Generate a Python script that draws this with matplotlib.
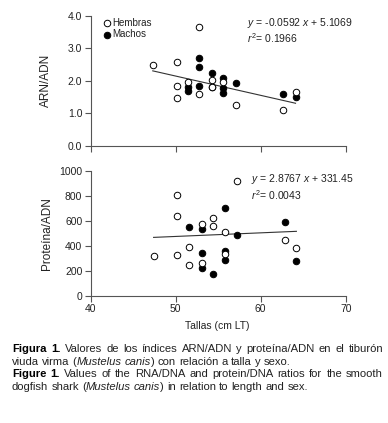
import numpy as np
import matplotlib
matplotlib.use("Agg")
import matplotlib.pyplot as plt

plt.rcParams['font.family'] = ['Liberation Sans', 'DejaVu Sans']
plt.rcParams['mathtext.fontset'] = 'custom'
plt.rcParams['mathtext.rm'] = 'Liberation Sans'
plt.rcParams['mathtext.it'] = 'Liberation Sans:italic'

# ---- data ----
# ARN/ADN panel
arn_h_x = [47.3, 50.1, 50.1, 50.1, 51.5, 52.8, 52.8, 54.3, 54.3, 55.6, 57.1, 62.6, 64.1]
arn_h_y = [2.49, 2.57, 1.85, 1.47, 1.95, 3.66, 1.60, 2.02, 1.80, 1.96, 1.27, 1.09, 1.66]
arn_m_x = [51.5, 51.5, 52.8, 52.8, 52.8, 54.3, 54.3, 55.6, 55.6, 55.6, 57.1, 62.6, 64.1]
arn_m_y = [1.80, 1.70, 2.71, 2.42, 1.83, 2.25, 1.82, 2.10, 1.79, 1.62, 1.93, 1.60, 1.51]
arn_fit = (-0.0592, 5.1069, 0.1966)

# Proteina/ADN panel
prot_h_x = [47.4, 50.2, 50.2, 50.2, 51.6, 51.6, 53.1, 53.1, 54.4, 54.4, 55.8, 55.8, 57.2, 62.9, 64.2]
prot_h_y = [319, 803, 638, 330, 394, 247, 574, 266, 622, 556, 513, 332, 915, 447, 386]
prot_m_x = [51.6, 53.1, 53.1, 53.1, 54.4, 55.8, 55.8, 55.8, 57.2, 62.9, 64.2]
prot_m_y = [553, 537, 343, 223, 176, 702, 362, 287, 484, 593, 277]
prot_fit = (2.8767, 331.45, 0.0043)

xticks = [40, 50, 60, 70]
arn_yticks = [0, 1, 2, 3, 4]
prot_yticks = [0, 200, 400, 600, 800, 1000]

W, H = 388, 423
fig = plt.figure(figsize=(W / 100, H / 100), dpi=100)

spine_c = '#555555'
txt_c = '#222222'

def style_axes(ax):
    for s in ['top', 'right']:
        ax.spines[s].set_visible(False)
    for s in ['left', 'bottom']:
        ax.spines[s].set_color(spine_c)
        ax.spines[s].set_linewidth(0.8)
    ax.tick_params(direction='out', length=4, width=0.8, color=spine_c,
                   labelsize=7.5, labelcolor=txt_c, pad=2)
    ax.set_xlim(40, 70)
    ax.set_xticks(xticks)

def draw_points(ax, hx, hy, mx, my, fit):
    ax.scatter(mx, my, s=22, facecolor='black', edgecolor='black', linewidths=0.7,
               label='Machos', zorder=3, clip_on=False)
    ax.scatter(hx, hy, s=22, facecolor='white', edgecolor='black', linewidths=0.7,
               label='Hembras', zorder=3, clip_on=False)
    xs = np.array([min(hx + mx), max(hx + mx)])
    ax.plot(xs, fit[0] * xs + fit[1], color='#333333', lw=0.8, zorder=2)

# top panel
ax1 = fig.add_axes([90.7 / W, 1 - 146 / H, 255 / W, 130.3 / H])
style_axes(ax1)
draw_points(ax1, arn_h_x, arn_h_y, arn_m_x, arn_m_y, arn_fit)
ax1.set_ylim(0, 4)
ax1.set_yticks(arn_yticks)
ax1.set_yticklabels(['%.1f' % v for v in arn_yticks])
ax1.set_xticklabels([])
ax1.set_ylabel('ARN/ADN', fontsize=8.5, color=txt_c)
ax1.yaxis.set_label_coords(-0.150, 0.5)
h, l = ax1.get_legend_handles_labels()
ax1.legend(h[::-1], l[::-1], loc='upper left', bbox_to_anchor=(0.025, 1.02),
           frameon=False, fontsize=7, handletextpad=0.05, borderpad=0,
           labelspacing=0.15, handlelength=1.0, labelcolor=txt_c)
ax1.text(246.7 / W, 1 - 22.7 / H, r'$y$ = -0.0592 $x$ + 5.1069', transform=fig.transFigure,
         fontsize=7.5, color=txt_c, va='center', ha='left')
ax1.text(246.7 / W, 1 - 38 / H, r'$r^2$= 0.1966', transform=fig.transFigure,
         fontsize=7.5, color=txt_c, va='center', ha='left')

# bottom panel
ax2 = fig.add_axes([90.7 / W, 1 - 296 / H, 255 / W, 125.3 / H])
style_axes(ax2)
draw_points(ax2, prot_h_x, prot_h_y, prot_m_x, prot_m_y, prot_fit)
ax2.set_ylim(0, 1000)
ax2.set_yticks(prot_yticks)
ax2.set_ylabel('Proteína/ADN', fontsize=8.5, color=txt_c)
ax2.yaxis.set_label_coords(-0.146, 0.5)
ax2.text(250.7 / W, 1 - 179 / H, r'$y$ = 2.8767 $x$ + 331.45', transform=fig.transFigure,
         fontsize=7.5, color=txt_c, va='center', ha='left')
ax2.text(250.7 / W, 1 - 195 / H, r'$r^2$= 0.0043', transform=fig.transFigure,
         fontsize=7.5, color=txt_c, va='center', ha='left')

fig.text(217 / W, 1 - 326 / H, 'Tallas (cm LT)', fontsize=7.5, color=txt_c,
         ha='center', va='center')

# ---- caption, justified by hand ----
renderer = fig.canvas.get_renderer()
cap_size = 8.1
x_left, x_right = 12, 383

def make_text(s, kind, x, y):
    kw = dict(fontsize=cap_size, color=txt_c, va='baseline', ha='left')
    if kind == 'b':
        kw['fontweight'] = 'bold'
        kw['color'] = '#000000'
    if kind == 'i':
        kw['fontstyle'] = 'italic'
    return fig.text(x / W, 1 - y / H, s, **kw)

def draw_line(pieces, y, justify):
    words = [[]]
    for s, kind in pieces:
        parts = s.split(' ')
        for i, p in enumerate(parts):
            if i > 0:
                words.append([])
            if p:
                words[-1].append((p, kind))
    words = [w for w in words if w]
    objs = []
    widths = []
    for w in words:
        row = []
        tot = 0
        for p, kind in w:
            t = make_text(p, kind, 0, y)
            wd = t.get_window_extent(renderer).width
            row.append((t, wd))
            tot += wd
        objs.append(row)
        widths.append(tot)
    sp = make_text('a a', 'n', 0, y)
    sp2 = make_text('aa', 'n', 0, y)
    space = sp.get_window_extent(renderer).width - sp2.get_window_extent(renderer).width
    sp.remove()
    sp2.remove()
    if justify and len(words) > 1:
        gap = (x_right - x_left - sum(widths)) / (len(words) - 1)
    else:
        gap = space
    x = x_left
    for row in objs:
        for t, wd in row:
            t.set_x(x / W)
            x += wd
        x += gap

draw_line([('Figura 1.', 'b'), (' Valores de los índices ARN/ADN y proteína/ADN en el tiburón', 'n')], 352, True)
draw_line([('viuda virma (', 'n'), ('Mustelus canis', 'i'), (') con relación a talla y sexo.', 'n')], 364.5, False)
draw_line([('Figure 1.', 'b'), (' Values of the RNA/DNA and protein/DNA ratios for the smooth', 'n')], 377, True)
draw_line([('dogfish shark (', 'n'), ('Mustelus canis', 'i'), (') in relation to length and sex.', 'n')], 389.5, False)

fig.savefig('out.png', dpi=100)
